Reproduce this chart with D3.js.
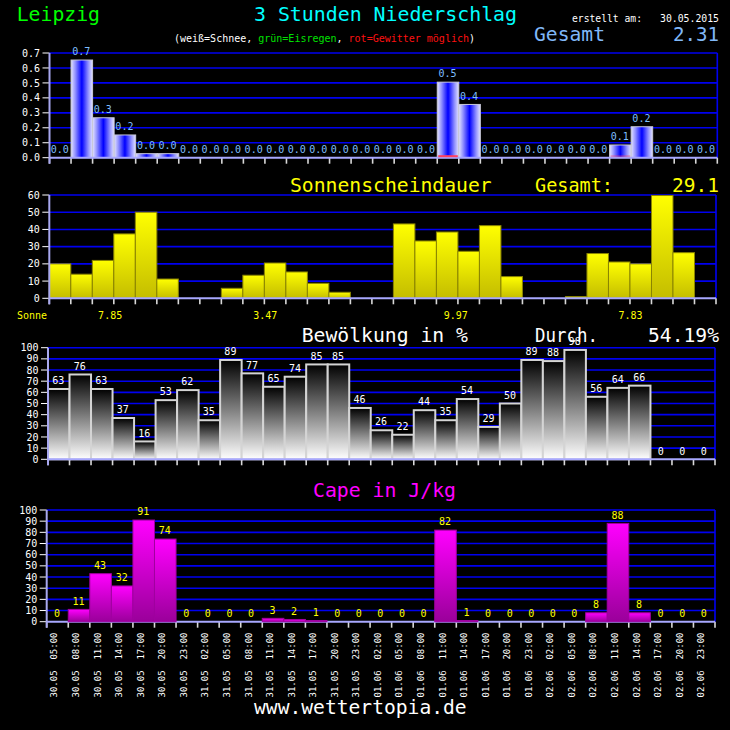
<!DOCTYPE html>
<html><head><meta charset="utf-8">
<script src="https://cdn.jsdelivr.net/npm/d3@7"></script>
<style>body{margin:0;background:#000}svg{display:block}text{font-family:"DejaVu Sans Mono",monospace}</style>
</head><body><script>
// ---------- data ----------
const dates = ["30.05","30.05","30.05","30.05","30.05","30.05","30.05",
  "31.05","31.05","31.05","31.05","31.05","31.05","31.05","31.05",
  "01.06","01.06","01.06","01.06","01.06","01.06","01.06","01.06",
  "02.06","02.06","02.06","02.06","02.06","02.06","02.06","02.06"];
const times = ["05:00","08:00","11:00","14:00","17:00","20:00","23:00",
  "02:00","05:00","08:00","11:00","14:00","17:00","20:00","23:00",
  "02:00","05:00","08:00","11:00","14:00","17:00","20:00","23:00",
  "02:00","05:00","08:00","11:00","14:00","17:00","20:00","23:00"];
const precip = [0,0.653,0.267,0.152,0.027,0.027,0,0,0,0,0,0,0,0,0,0,0,0,0.505,0.356,0,0,0,0,0,0,0.085,0.207,0,0,0];
const thunder = [0,0,0,0,0,0,0,0,0,0,0,0,0,0,0,0,0,0,1,0,0,0,0,0,0,0,0.35,0,0,0,0];
const precipTotal = "2.31";
const precipTicks = [0,0.1,0.2,0.3,0.4,0.5,0.6,0.7];
const sunshine = [20,14,22,37.4,50,11.2,0,0,5.8,13.4,20.5,15.3,8.7,3.5,0,0,43.2,33.3,38.5,27.3,42.2,12.6,0,0,1,26,21.1,20,59.7,26.5,0];
const sunDaily = [7.85,3.47,9.97,7.83];
const sunDailyPos = [2.83,10.04,18.9,27.03];
const sunTicks = [0,10,20,30,40,50,60];
const clouds = [63,76,63,37,16,53,62,35,89,77,65,74,85,85,46,26,22,44,35,54,29,50,89,88,98,56,64,66,0,0,0];
const cloudMean = "54.19%";
const cape = [0,11,43,32,91,74,0,0,0,0,3,2,1,0,0,0,0,0,82,1,0,0,0,0,0,8,88,8,0,0,0];
const pctTicks = [0,10,20,30,40,50,60,70,80,90,100];
const place = "Leipzig";
const created = "30.05.2015";

// ---------- svg ----------
const W = 730, H = 730;
const svg = d3.select("body").append("svg").attr("width", W).attr("height", H).style("background","#000");
const defs = svg.append("defs");
function lin(id, x1,y1,x2,y2, stops){
  const g = defs.append("linearGradient").attr("id",id).attr("x1",x1).attr("y1",y1).attr("x2",x2).attr("y2",y2);
  stops.forEach(s=>g.append("stop").attr("offset",s[0]).attr("stop-color",s[1]));
}
lin("gBlue","0","0","1","0",[[0,"#e4e4ff"],[0.2,"#9090ff"],[0.5,"#0000ff"],[0.8,"#9090ff"],[1,"#e4e4ff"]]);
lin("gSun","0","0","0","1",[[0,"#ffff00"],[1,"#c4bd00"]]);
lin("gCloud","0","0","0","1",[[0,"#000000"],[1,"#ffffff"]]);
lin("gCape","0","0","0","1",[[0,"#ff00ff"],[1,"#9a009a"]]);

function txt(x, y, s, o){
  const t = svg.append("text").attr("x",x).attr("y",y).text(s)
    .attr("font-size",o.size||10).attr("fill",o.fill||"#fff")
    .attr("text-anchor",o.anchor||"start");
  if(o.len){ t.attr("textLength",o.len).attr("lengthAdjust","spacingAndGlyphs"); }
  return t;
}

const idx = d3.range(31);

function panel(cfg){
  const x = d3.scaleLinear().domain([0,31]).range(cfg.xr);
  const y = d3.scaleLinear().domain(cfg.dom).range(cfg.yr);
  const g = svg.append("g");
  // grid
  g.selectAll(".grid").data(cfg.ticks.filter(v=>v>cfg.dom[0])).enter().append("line")
    .attr("x1",cfg.xr[0]).attr("x2",cfg.xr[1]).attr("y1",d=>y(d)).attr("y2",d=>y(d))
    .attr("stroke","#0000f0").attr("stroke-width",1.6);
  // right border
  g.append("line").attr("x1",cfg.xr[1]).attr("x2",cfg.xr[1]).attr("y1",cfg.yr[1]).attr("y2",cfg.yr[0])
    .attr("stroke","#0000f0").attr("stroke-width",1.6);
  // y ticks
  g.selectAll(".yt").data(cfg.ticks).enter().append("line")
    .attr("x1",cfg.xr[0]-7).attr("x2",cfg.xr[0]).attr("y1",d=>y(d)).attr("y2",d=>y(d))
    .attr("stroke","#fff").attr("stroke-width",1);
  g.selectAll(".yl").data(cfg.ticks).enter().append("text")
    .attr("x",cfg.xr[0]-9.5).attr("y",d=>y(d)+3.6).attr("text-anchor","end")
    .attr("font-size",10).attr("fill","#fff").text(cfg.tfmt);
  // x ticks
  g.selectAll(".xt").data(d3.range(32)).enter().append("line")
    .attr("x1",d=>x(d)).attr("x2",d=>x(d)).attr("y1",cfg.yr[0]).attr("y2",cfg.yr[0]+6)
    .attr("stroke","#d8d8d8").attr("stroke-width",1.6);
  const axisFirst = cfg.axisFirst;
  function axisLines(){
    g.append("line").attr("x1",cfg.xr[0]).attr("x2",cfg.xr[1]).attr("y1",cfg.yr[0]).attr("y2",cfg.yr[0])
      .attr("stroke","#a8a8ff").attr("stroke-width",2);
    g.append("line").attr("x1",cfg.xr[0]).attr("x2",cfg.xr[0]).attr("y1",cfg.yr[1]).attr("y2",cfg.yr[0]+6)
      .attr("stroke","#a8a8f0").attr("stroke-width",2);
  }
  if(axisFirst) axisLines();
  // bars
  g.selectAll(".bar").data(idx.filter(i=>cfg.vals[i]>0)).enter().append("rect")
    .attr("x",i=>x(i)).attr("width",i=>x(i+1)-x(i))
    .attr("y",i=>y(cfg.vals[i])).attr("height",i=>y(0)-y(cfg.vals[i]))
    .attr("fill",cfg.fill).attr("stroke",cfg.stroke).attr("stroke-width",cfg.sw||1);
  if(!axisFirst) axisLines();
  // labels
  if(cfg.lfmt){
    g.selectAll(".vl").data(idx).enter().append("text")
      .attr("x",i=>(x(i)+x(i+1))/2 - 0.5).attr("y",i=>y(cfg.vals[i]) - 4.8)
      .attr("text-anchor","middle").attr("font-size",10).attr("fill",cfg.lcol)
      .text(i=>cfg.lfmt(cfg.vals[i]));
  }
  return {x,y,g};
}

// ---------- header ----------
txt(16.7,21,place,{size:20,fill:"#00ff00",len:83.3});
txt(254,21,"3 Stunden Niederschlag",{size:20,fill:"#00ffff",len:263});
txt(572,21.5,"erstellt am:",{size:10,fill:"#fff",len:70});
txt(660,21.5,created,{size:10,fill:"#fff",len:59});
const sub = svg.append("text").attr("x",174).attr("y",41.5).attr("font-size",10)
  .attr("textLength",301).attr("lengthAdjust","spacingAndGlyphs");
sub.append("tspan").attr("fill","#fff").text("(weiß=Schnee, ");
sub.append("tspan").attr("fill","#00e000").text("grün=Eisregen");
sub.append("tspan").attr("fill","#fff").text(", ");
sub.append("tspan").attr("fill","#ff1010").text("rot=Gewitter möglich");
sub.append("tspan").attr("fill","#fff").text(")");
txt(534,40.7,"Gesamt",{size:20,fill:"#80b8f8",len:71});
txt(719,40.7,precipTotal,{size:20,fill:"#80b8f8",anchor:"end",len:46});

// ---------- panel 1: precipitation ----------
const p1 = panel({xr:[49.5,717.3], yr:[157.7,53], dom:[0,0.7], ticks:precipTicks,
  tfmt:d3.format(".1f"), vals:precip, fill:"url(#gBlue)", stroke:"#c8c8d8", sw:1,
  lfmt:d3.format(".1f"), lcol:"#7fbfff", axisFirst:false});
p1.g.selectAll(".th").data(idx.filter(i=>thunder[i]>0)).enter().append("rect")
  .attr("x",i=>p1.x(i)+1).attr("width",i=>p1.x(i+1)-p1.x(i)-2)
  .attr("y",p1.y(0)-2.5).attr("height",2)
  .attr("fill","#ff4060").attr("opacity",i=>thunder[i]);

// ---------- panel 2: sunshine ----------
txt(290,192,"Sonnenscheindauer",{size:20,fill:"#ffff00",len:201.7});
txt(535,192,"Gesamt:",{size:20,fill:"#ffff00",len:78});
txt(719,192,d3.format(".1f")(d3.sum(sunDaily)),{size:20,fill:"#ffff00",anchor:"end",len:47});
const p2 = panel({xr:[49.3,716], yr:[298.3,195], dom:[0,60], ticks:sunTicks,
  tfmt:d3.format("d"), vals:sunshine, fill:"url(#gSun)", stroke:"#8a8400", sw:1, axisFirst:false});
txt(17,319,"Sonne",{size:10,fill:"#ffff00",len:30});
p2.g.selectAll(".sd").data(sunDaily).enter().append("text")
  .attr("x",(d,i)=>p2.x(sunDailyPos[i])).attr("y",319).attr("text-anchor","middle")
  .attr("font-size",10).attr("fill","#ffff00").text(d=>d3.format(".2f")(d));

// ---------- panel 3: clouds ----------
txt(301.7,341.5,"Bewölkung in %",{size:20,fill:"#fff",len:166.3});
txt(535,341.5,"Durch.",{size:20,fill:"#fff",len:63});
txt(719,341.5,cloudMean,{size:20,fill:"#fff",anchor:"end",len:71});
panel({xr:[48,715], yr:[459.3,347.7], dom:[0,100], ticks:pctTicks,
  tfmt:d3.format("d"), vals:clouds, fill:"url(#gCloud)", stroke:"#d4d4d4", sw:2,
  lfmt:d3.format("d"), lcol:"#fff", axisFirst:false});

// ---------- panel 4: CAPE ----------
txt(313,497,"Cape in J/kg",{size:20,fill:"#ff00ff",len:143});
const p4 = panel({xr:[46.7,715], yr:[621.7,510], dom:[0,100], ticks:pctTicks,
  tfmt:d3.format("d"), vals:cape, fill:"url(#gCape)", stroke:"#a000a0", sw:1,
  lfmt:d3.format("d"), lcol:"#ffff00", axisFirst:true});

// rotated time labels
p4.g.selectAll(".tl").data(idx).enter().append("text")
  .attr("transform",i=>`translate(${(p4.x(i)+p4.x(i+1))/2},632.5) rotate(-90)`)
  .attr("text-anchor","end").attr("font-size",9).attr("fill","#fff")
  .attr("xml:space","preserve").style("white-space","pre")
  .text(i=>dates[i]+"  "+times[i]);

// footer
txt(254,714,"www.wettertopia.de",{size:20,fill:"#fff",len:212.7});
</script></body></html>
